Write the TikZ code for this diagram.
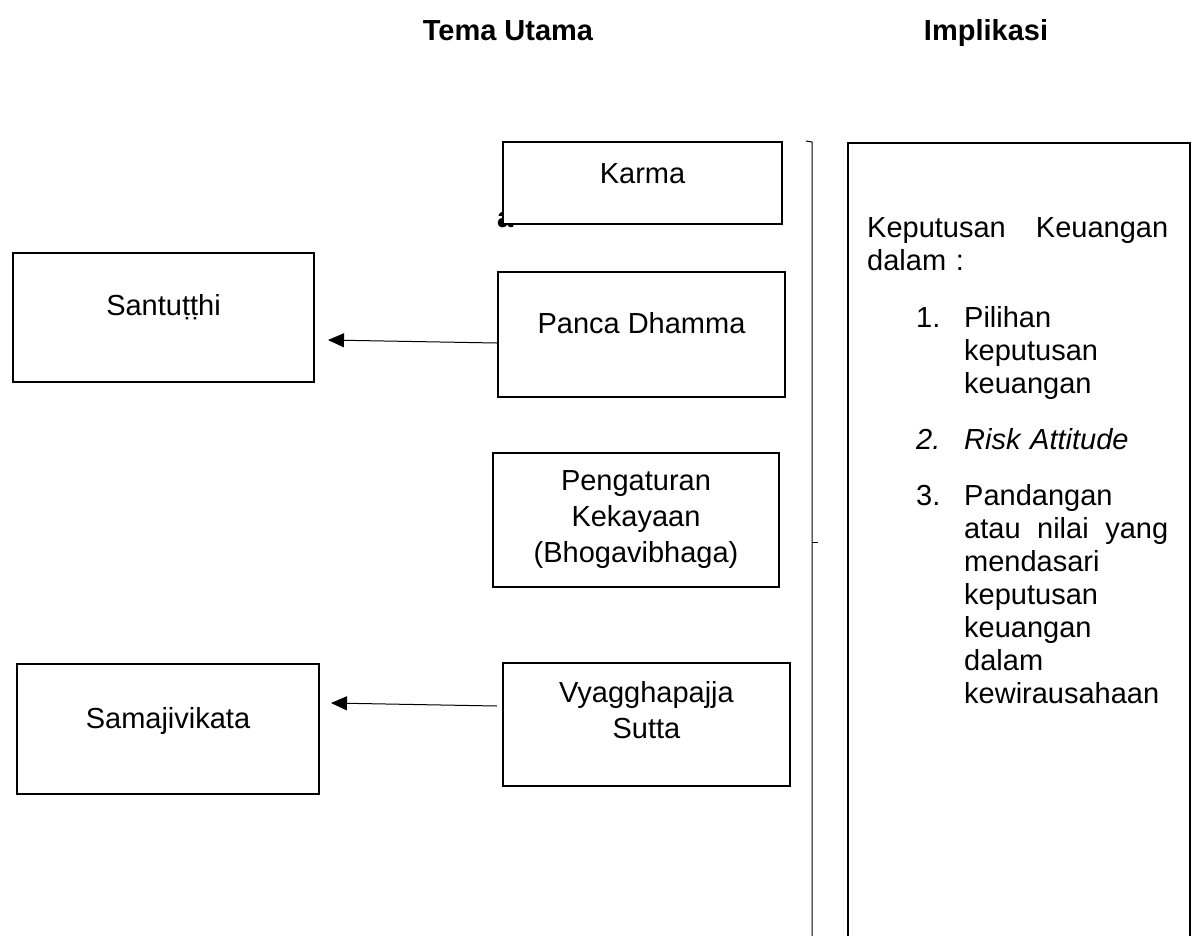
\documentclass[tikz,border=0pt]{standalone}
\usepackage{fontspec}
\setmainfont{Liberation Sans}
\usetikzlibrary{arrows.meta,calc}
\newcommand\bdfont{\fontsize{29}{36}\selectfont}
\newcommand\ltfont{\fontsize{29}{33}\selectfont}
\tikzset{
  box/.style={draw, line width=2pt, fill=white, rectangle, inner sep=0pt, align=center, font=\bdfont},
  head/.style={font=\bdfont\bfseries, inner sep=0pt},
  conn/.style={line width=1pt, -{Triangle[length=16pt,width=14pt]}},
  bracket/.style={line width=1pt},
}
\begin{document}
\begin{tikzpicture}[x=1pt,y=-1pt]
\useasboundingbox (0,0) rectangle (1196,935);
\clip (0,0) rectangle (1196,935);
% headers
\node[head, anchor=base] (h1) at (508,40) {Tema Utama};
\node[head, anchor=base] (h2) at (986,40) {Implikasi};
% hidden letter behind Karma box
\node[head, anchor=base west] (hid) at (497,227) {a};
% boxes
\node[box, minimum width=279pt, minimum height=82pt, text height=21pt, text depth=21pt] (karma) at (642.5,183) {Karma};
\node[box, minimum width=301pt, minimum height=129pt, text height=21pt, text depth=26pt] (san) at (163.5,317.5) {Santuṭṭhi};
\node[box, minimum width=287pt, minimum height=125pt, text height=21pt, text depth=24pt] (pd) at (641.5,334.5) {Panca Dhamma};
\node[box, minimum width=286pt, minimum height=134pt] (peng) at (636,520) {Pengaturan\\Kekayaan\\(Bhogavibhaga)};
\node[box, minimum width=287pt, minimum height=123pt, text depth=30pt] (vy) at (646.5,724.5) {Vyagghapajja\\Sutta};
\node[box, minimum width=302pt, minimum height=130pt, text height=21pt, text depth=23pt] (sam) at (168,729) {Samajivikata};
% implication box (open at the bottom of the page)
\node[draw, line width=2.2pt, rectangle, minimum width=342pt, minimum height=830pt, anchor=north west, inner sep=0pt] (impl) at (847,142) {};
\node[font=\ltfont, text width=301pt, align=left, inner sep=0pt, anchor=north west] (impltext) at (867,217) {%
\hbox to 301pt{Keputusan\hfill Keuangan}\\
dalam :\\[24pt]
\hspace*{49pt}\makebox[48pt][l]{1.}Pilihan\\
\hspace*{97pt}keputusan\\
\hspace*{97pt}keuangan\\[23pt]
\hspace*{49pt}\makebox[48pt][l]{\itshape 2.}\textit{Risk Attitude}\\[23pt]
\hspace*{49pt}\makebox[48pt][l]{3.}Pandangan\\
\hspace*{97pt}\hbox to 204pt{atau\hfill nilai\hfill yang}\\
\hspace*{97pt}mendasari\\
\hspace*{97pt}keputusan\\
\hspace*{97pt}keuangan\\
\hspace*{97pt}dalam\\
\hspace*{97pt}kewirausahaan};
% bracket line
\coordinate (bt) at (806,141);
\coordinate (bb) at (812,960);
\coordinate (tk) at (818,542);
\draw[bracket] (bt) -- (812,142) -- (bb);
\draw[bracket] (812,542) -- (tk);
% connectors
\coordinate (t1) at (328,340);
\coordinate (t2) at (331,703);
\draw[conn] ($(pd.west)+(0,8.5)$) -- (t1);
\draw[conn] ($(vy.west)+(-5,-18.5)$) -- (t2);
\end{tikzpicture}
\end{document}
